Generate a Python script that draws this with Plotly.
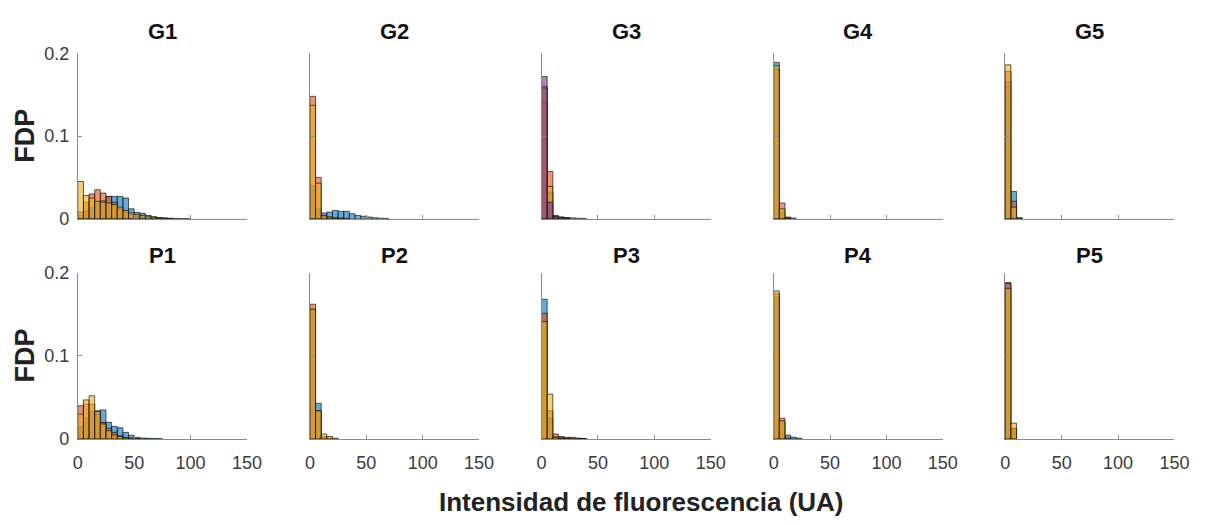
import plotly.graph_objects as go

# Histogram bins: left edges, width 5 UA, 0-150
bin_left = list(range(0, 150, 5))
bin_width = 5

# Probability density per bin for each condition (azul, rojo, amarillo, morado)
G1 = {
    "azul": [0.004, 0.009, 0.014, 0.019, 0.022, 0.027, 0.027, 0.027, 0.025, 0.012, 0.0075, 0.0065,
             0.004, 0.0025, 0.0015, 0.001, 0.0006, 0.0004, 0.0003, 0.0002],
    "rojo": [0.008, 0.020, 0.030, 0.035, 0.031, 0.027, 0.020, 0.012, 0.008, 0.005, 0.003, 0.002,
             0.0012, 0.0007, 0.0004, 0.0002],
    "amarillo": [0.045, 0.028, 0.025, 0.021, 0.020, 0.019, 0.017, 0.014, 0.010, 0.007, 0.005, 0.004,
                 0.003, 0.002, 0.001, 0.0006, 0.0003],
}
G2 = {
    "azul": [0.040, 0.012, 0.007, 0.008, 0.010, 0.009, 0.009, 0.006, 0.004, 0.003, 0.002, 0.0012,
             0.0007, 0.0004],
    "rojo": [0.148, 0.050, 0.003, 0.002, 0.001, 0.0007, 0.0005],
    "amarillo": [0.137, 0.043, 0.004, 0.002, 0.001, 0.0005],
}
G3 = {
    "azul": [0.160, 0.032, 0.004, 0.002, 0.0015, 0.001, 0.0006, 0.0004],
    "rojo": [0.140, 0.057, 0.002, 0.001, 0.0005],
    "amarillo": [0.158, 0.039, 0.002, 0.001],
    "morado": [0.172, 0.020, 0.003, 0.002, 0.001],
}
G4 = {
    "azul": [0.189, 0.008, 0.002, 0.001],
    "rojo": [0.180, 0.019, 0.001],
    "amarillo": [0.185, 0.012, 0.001],
}
G5 = {
    "azul": [0.166, 0.033, 0.001],
    "rojo": [0.178, 0.021, 0.001],
    "amarillo": [0.186, 0.014],
}
P1 = {
    "azul": [0.015, 0.025, 0.033, 0.034, 0.035, 0.020, 0.015, 0.0135, 0.008, 0.0045, 0.002, 0.0012,
             0.0008, 0.0005, 0.0003],
    "rojo": [0.040, 0.042, 0.042, 0.030, 0.020, 0.013, 0.008, 0.004, 0.002, 0.001, 0.0005],
    "amarillo": [0.030, 0.047, 0.052, 0.033, 0.018, 0.010, 0.005, 0.003, 0.0015, 0.0008],
}
P2 = {
    "azul": [0.156, 0.043, 0.001],
    "rojo": [0.162, 0.034, 0.003, 0.001],
    "amarillo": [0.156, 0.034, 0.006, 0.003, 0.001],
}
P3 = {
    "azul": [0.168, 0.025, 0.003, 0.002, 0.001, 0.001, 0.0008, 0.0005],
    "rojo": [0.151, 0.034, 0.006, 0.003, 0.002, 0.002, 0.001, 0.0006],
    "amarillo": [0.141, 0.054, 0.002, 0.001, 0.001],
}
P4 = {
    "azul": [0.171, 0.021, 0.0046, 0.0023, 0.001],
    "rojo": [0.175, 0.025, 0.001],
    "amarillo": [0.178, 0.022],
}
P5 = {
    "azul": [0.188, 0.012],
    "rojo": [0.187, 0.013],
    "amarillo": [0.181, 0.019],
}

panel_titles = ["G1", "G2", "G3", "G4", "G5", "P1", "P2", "P3", "P4", "P5"]
panels = [G1, G2, G3, G4, G5, P1, P2, P3, P4, P5]

x_ticks = [0, 50, 100, 150]
y_ticks = [0, 0.1, 0.2]
y_ticktext = ["0", "0.1", "0.2"]

colors = {
    "azul": "rgba(0,114,189,0.6)",
    "rojo": "rgba(217,83,25,0.6)",
    "amarillo": "rgba(237,177,32,0.6)",
    "morado": "rgba(126,47,142,0.6)",
}
draw_order = ["azul", "rojo", "amarillo", "morado"]

W, H = 1216, 525
col_left = [74, 310, 545.5, 781.5, 1017]
panel_w = 172
row_top = [45, 273]
row_bottom = [217, 446]
title_y = [22, 255]

FONT = "Liberation Sans, Arial, Helvetica, sans-serif"
AXIS_GRAY = "#8a8a8a"
TEXT_GRAY = "#3a3a3a"

fig = go.Figure()
layout = {}
annotations = []

for i, (name, data) in enumerate(zip(panel_titles, panels)):
    r, c = divmod(i, 5)
    k = i + 1
    xa = "x" if k == 1 else f"x{k}"
    ya = "y" if k == 1 else f"y{k}"
    for key in draw_order:
        if key not in data:
            continue
        vals = data[key]
        fig.add_trace(go.Bar(
            x=bin_left[:len(vals)], y=vals, width=bin_width, offset=0,
            marker=dict(color=colors[key], line=dict(color="rgba(20,20,20,0.85)", width=0.8)),
            xaxis=xa, yaxis=ya, showlegend=False,
        ))

    x0 = col_left[c] / W
    x1 = (col_left[c] + panel_w) / W
    y0 = 1 - row_bottom[r] / H
    y1 = 1 - row_top[r] / H
    layout["xaxis" if k == 1 else f"xaxis{k}"] = dict(
        domain=[x0, x1], anchor=ya, range=[0, 150], showline=True, linecolor=AXIS_GRAY,
        linewidth=1, ticks="inside", ticklen=4, tickcolor=AXIS_GRAY, tickvals=x_ticks,
        showticklabels=(r == 1), showgrid=False, zeroline=False, ticklabelstandoff=7,
        tickfont=dict(family=FONT, size=18, color=TEXT_GRAY),
    )
    layout["yaxis" if k == 1 else f"yaxis{k}"] = dict(
        domain=[y0, y1], anchor=xa, range=[0, 0.2], showline=True, linecolor=AXIS_GRAY,
        linewidth=1, ticks="inside", ticklen=4, tickcolor=AXIS_GRAY, tickvals=y_ticks,
        ticktext=y_ticktext, showticklabels=(c == 0), showgrid=False, zeroline=False,
        ticklabelstandoff=4,
        tickfont=dict(family=FONT, size=18, color=TEXT_GRAY),
    )
    # panel title
    annotations.append(dict(
        text=f"<b>{name}</b>", x=(col_left[c] + panel_w / 2) / W, y=1 - title_y[r] / H,
        xref="paper", yref="paper", xanchor="center", yanchor="middle", showarrow=False,
        font=dict(family=FONT, size=22, color="#111111"),
    ))

for r in range(2):
    annotations.append(dict(
        text="<b>FDP</b>", x=20 / W, y=1 - (row_top[r] + row_bottom[r]) / 2 / H,
        xref="paper", yref="paper", xanchor="center", yanchor="middle", textangle=-90,
        showarrow=False, font=dict(family=FONT, size=27, color="#222222"),
    ))

annotations.append(dict(
    text="<b>Intensidad de fluorescencia (UA)</b>", x=647 / W, y=1 - 511 / H,
    xref="paper", yref="paper", xanchor="center", yanchor="middle", showarrow=False,
    font=dict(family=FONT, size=26, color="#222222"),
))

fig.update_layout(
    width=W, height=H, margin=dict(l=0, r=0, t=0, b=0),
    paper_bgcolor="white", plot_bgcolor="white", barmode="overlay",
    annotations=annotations, **layout,
)

fig.write_html("out.html")
